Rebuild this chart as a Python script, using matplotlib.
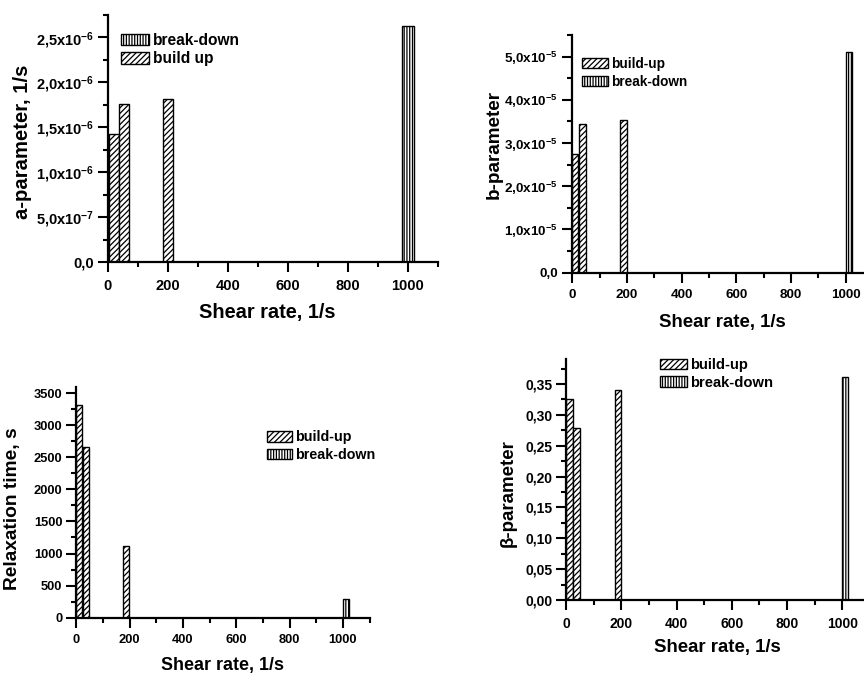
import matplotlib
matplotlib.use("Agg")
import math
import matplotlib.pyplot as plt
from matplotlib.patches import Patch
from matplotlib.ticker import FixedLocator, MultipleLocator, FuncFormatter

plt.rcParams['font.family'] = ['Liberation Sans', 'DejaVu Sans']
plt.rcParams['font.weight'] = 'bold'
plt.rcParams['mathtext.fontset'] = 'custom'
plt.rcParams['mathtext.rm'] = 'Liberation Sans:bold'
plt.rcParams['mathtext.it'] = 'Liberation Sans:bold'
plt.rcParams['mathtext.bf'] = 'Liberation Sans:bold'
plt.rcParams['mathtext.default'] = 'rm'
plt.rcParams['hatch.linewidth'] = 0.9

# ---- data ----
# Panel (a): a-parameter
a_build_x = [20, 52, 200]
a_build_y = [1.42e-6, 1.76e-6, 1.81e-6]
a_break_x = [1000]
a_break_y = [2.63e-6]

# Panel (b): b-parameter
b_build_x = [10, 37, 188]
b_build_y = [2.75e-5, 3.43e-5, 3.53e-5]
b_break_x = [1013]
b_break_y = [5.10e-5]

# Panel (c): relaxation time
t_build_x = [11, 37, 188]
t_build_y = [3318, 2666, 1118]
t_break_x = [1012]
t_break_y = [290]

# Panel (d): beta-parameter
g_build_x = [11, 37, 188]
g_build_y = [0.326, 0.279, 0.340]
g_break_x = [1010]
g_break_y = [0.3615]

x_ticks = [0, 200, 400, 600, 800, 1000]

BUILD_HATCH = '//////'
BREAK_HATCH = '||||||'

fig = plt.figure(figsize=(8.64, 6.78), dpi=100)


def sci_fmt(v, pos):
    if abs(v) < 1e-20:
        return '0,0'
    e = int(math.floor(math.log10(abs(v)) + 1e-9))
    m = v / 10 ** e
    ms = ('%.1f' % m).replace('.', ',')
    return ms + r'x10$^{' + str(e) + '}$'


def style_axes(ax, fs):
    for s in ['top', 'right']:
        ax.spines[s].set_visible(False)
    for s in ['left', 'bottom']:
        ax.spines[s].set_linewidth(1.6)
    ax.tick_params(which='major', direction='out', length=7, width=1.5,
                   labelsize=fs, pad=3)
    ax.tick_params(which='minor', direction='out', length=3.5, width=1.5)
    ax.tick_params(axis='x', which='major', pad=5)
    ax.xaxis.set_major_locator(FixedLocator(x_ticks))
    ax.xaxis.set_minor_locator(MultipleLocator(100))
    ax.set_xlim(0, 1100)
    for lab in ax.get_xticklabels() + ax.get_yticklabels():
        lab.set_fontweight('bold')


def draw(ax, bx, by, kx, ky, w, wk):
    b1 = ax.bar(bx, by, width=w, color='white', edgecolor='black',
                hatch=BUILD_HATCH, linewidth=1.0, zorder=2)
    b2 = ax.bar(kx, ky, width=wk, color='white', edgecolor='black',
                hatch=BREAK_HATCH, linewidth=1.0, zorder=2)
    return b1, b2


def legend(ax, labels_hatches, anchor, fs, hl, hh, ls):
    handles = [Patch(facecolor='white', edgecolor='black', hatch=h, linewidth=1.0)
               for _, h in labels_hatches]
    labels = [l for l, _ in labels_hatches]
    leg = ax.legend(handles, labels, loc='upper left',
                    bbox_to_anchor=(anchor[0] / 864, 1 - anchor[1] / 678),
                    bbox_transform=fig.transFigure, frameon=False,
                    borderpad=0, borderaxespad=0, handlelength=hl,
                    handleheight=hh, handletextpad=0.25, labelspacing=ls,
                    prop={'weight': 'bold', 'size': fs})
    return leg


# ---- Panel (a) ----
ax1 = fig.add_axes([108 / 864, 1 - 262 / 678, 330 / 864, 247 / 678])
draw(ax1, a_build_x, a_build_y, a_break_x, a_break_y, 34, 38)
style_axes(ax1, 10.5)
ax1.set_ylim(0, 2.75e-6)
ax1.yaxis.set_major_locator(MultipleLocator(5e-7))
ax1.yaxis.set_minor_locator(MultipleLocator(2.5e-7))
ax1.yaxis.set_major_formatter(FuncFormatter(sci_fmt))
ax1.set_xlabel('Shear rate, 1/s', fontsize=14.4, fontweight='bold')
ax1.set_ylabel('a-parameter, 1/s', fontsize=14.6, fontweight='bold')
ax1.yaxis.set_label_coords(-0.23, 0.487)
ax1.xaxis.set_label_coords(0.483, -0.168)
legend(ax1, [('break-down', BREAK_HATCH), ('build up', BUILD_HATCH)],
       (120.5, 33), 11.2, 1.85, 0.72, 0.22)

# ---- Panel (b) ----
ax2 = fig.add_axes([572.3 / 864, 1 - 272.7 / 678, 300.7 / 864, 237.7 / 678])
draw(ax2, b_build_x, b_build_y, b_break_x, b_break_y, 24, 24)
style_axes(ax2, 9.7)
ax2.set_ylim(0, 5.5e-5)
ax2.yaxis.set_major_locator(MultipleLocator(1e-5))
ax2.yaxis.set_minor_locator(MultipleLocator(5e-6))
ax2.yaxis.set_major_formatter(FuncFormatter(sci_fmt))
ax2.set_xlabel('Shear rate, 1/s', fontsize=13.4, fontweight='bold')
ax2.set_ylabel('b-parameter', fontsize=13.6, fontweight='bold')
ax2.yaxis.set_label_coords(-0.23, 0.541)
ax2.xaxis.set_label_coords(0.4995, -0.172)
legend(ax2, [('build-up', BUILD_HATCH), ('break-down', BREAK_HATCH)],
       (581.5, 57), 9.8, 1.95, 0.75, 0.27)

# ---- Panel (c) ----
ax3 = fig.add_axes([76.3 / 864, 1 - 617.7 / 678, 293.3 / 864, 231 / 678])
draw(ax3, t_build_x, t_build_y, t_break_x, t_break_y, 22, 22)
style_axes(ax3, 9.3)
ax3.set_ylim(0, 3600)
ax3.yaxis.set_major_locator(MultipleLocator(500))
ax3.yaxis.set_minor_locator(MultipleLocator(250))
ax3.yaxis.set_major_formatter(FuncFormatter(lambda v, p: '%d' % round(v)))
ax3.set_xlabel('Shear rate, 1/s', fontsize=12.9, fontweight='bold')
ax3.set_ylabel('Relaxation time, s', fontsize=13.8, fontweight='bold')
ax3.yaxis.set_label_coords(-0.19, 0.47)
ax3.xaxis.set_label_coords(0.4996, -0.168)
legend(ax3, [('build-up', BUILD_HATCH), ('break-down', BREAK_HATCH)],
       (266.5, 430.5), 10.3, 1.75, 0.72, 0.25)

# ---- Panel (d) ----
ax4 = fig.add_axes([566.3 / 864, 1 - 600 / 678, 303.6 / 864, 240.7 / 678])
draw(ax4, g_build_x, g_build_y, g_break_x, g_break_y, 23, 23)
style_axes(ax4, 10)
ax4.set_ylim(0, 0.39)
ax4.yaxis.set_major_locator(MultipleLocator(0.05))
ax4.yaxis.set_minor_locator(MultipleLocator(0.025))
ax4.yaxis.set_major_formatter(FuncFormatter(lambda v, p: ('%.2f' % v).replace('.', ',')))
ax4.set_xlabel('Shear rate, 1/s', fontsize=13.4, fontweight='bold')
ax4.set_ylabel('β-parameter', fontsize=13.5, fontweight='bold')
ax4.yaxis.set_label_coords(-0.162, 0.445)
ax4.xaxis.set_label_coords(0.498, -0.16)
legend(ax4, [('build-up', BUILD_HATCH), ('break-down', BREAK_HATCH)],
       (660, 358), 10.6, 1.8, 0.72, 0.25)

fig.savefig('out.png', dpi=100)
